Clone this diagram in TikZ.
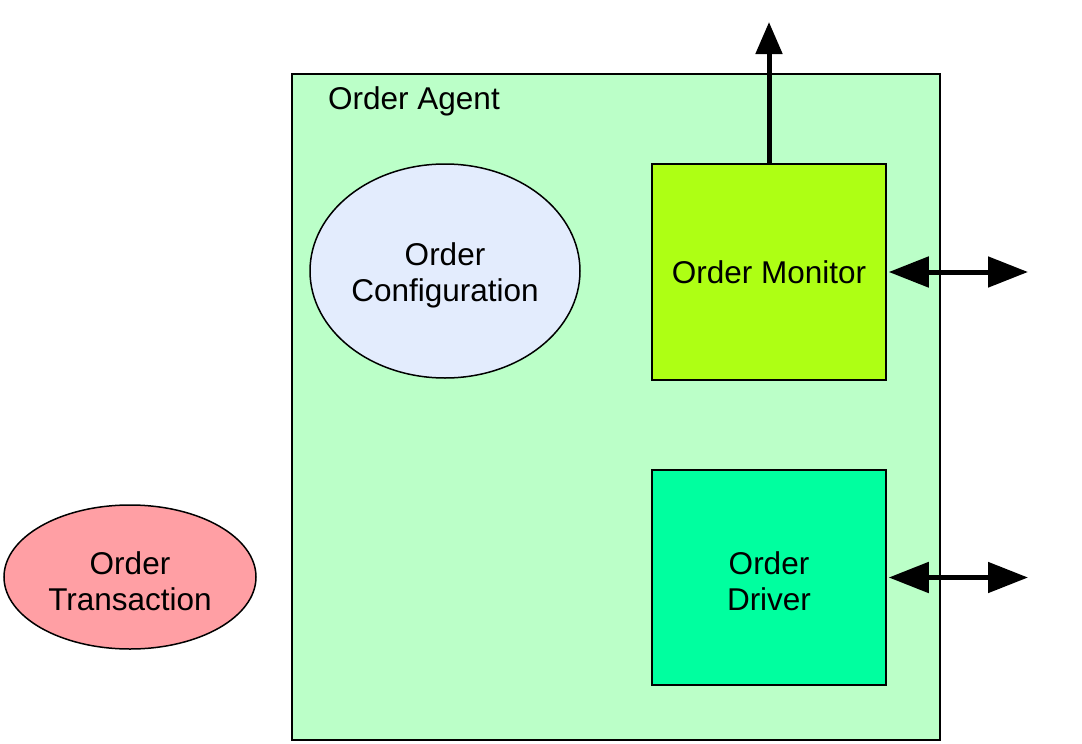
\documentclass[tikz,border=0pt]{standalone}
\usepackage{fontspec}
\setmainfont{Liberation Sans}
\usetikzlibrary{shapes.geometric,arrows.meta}
\definecolor{agentgreen}{HTML}{BBFFC8}
\definecolor{configblue}{HTML}{E3ECFD}
\definecolor{monitorlime}{HTML}{AEFF14}
\definecolor{drivergreen}{HTML}{00FF9F}
\definecolor{transpink}{HTML}{FF9FA4}
\newcommand{\lowerfirst}{\rule{0pt}{31pt}}
\tikzset{
  lbl/.style={font=\fontsize{31.5}{36}\selectfont, align=center},
  boxnode/.style={draw=black, line width=1.5pt, inner sep=0pt, lbl},
  ellnode/.style={ellipse, draw=black, line width=1.5pt, inner sep=0pt, lbl},
  bigarrow/.style={line width=5pt, draw=black},
}
\begin{document}
\begin{tikzpicture}[x=1pt,y=-1pt]
\path[use as bounding box] (0,0) rectangle (1082,744);
\node[boxnode, fill=agentgreen, minimum width=648pt, minimum height=666pt] (agent) at (616,407) {};
\node[lbl, anchor=center] (agentlbl) at (414,101) {Order Agent};
\node[ellnode, fill=configblue, minimum width=270pt, minimum height=214pt] (config) at (445,271) {\lowerfirst Order\\Configuration};
\node[boxnode, fill=monitorlime, minimum width=234pt, minimum height=216pt] (monitor) at (769,272) {Order Monitor};
\node[boxnode, fill=drivergreen, minimum width=234pt, minimum height=215pt] (driver) at (769,577.5) {\lowerfirst Order\\Driver};
\node[ellnode, fill=transpink, minimum width=252pt, minimum height=144pt] (trans) at (130,577) {\lowerfirst Order\\Transaction};
\coordinate (up) at (769,22);
\coordinate (mright) at (1028,272);
\coordinate (dright) at (1028,577.5);
\draw[bigarrow, -{Triangle[length=32pt,width=26pt]}] (monitor.north) -- (up);
\draw[bigarrow, {Triangle[length=40pt,width=30pt]}-{Triangle[length=40pt,width=30pt]}] (monitor.east) ++(2,0) -- (mright);
\draw[bigarrow, {Triangle[length=40pt,width=30pt]}-{Triangle[length=40pt,width=30pt]}] (driver.east) ++(2,0) -- (dright);
\end{tikzpicture}
\end{document}
